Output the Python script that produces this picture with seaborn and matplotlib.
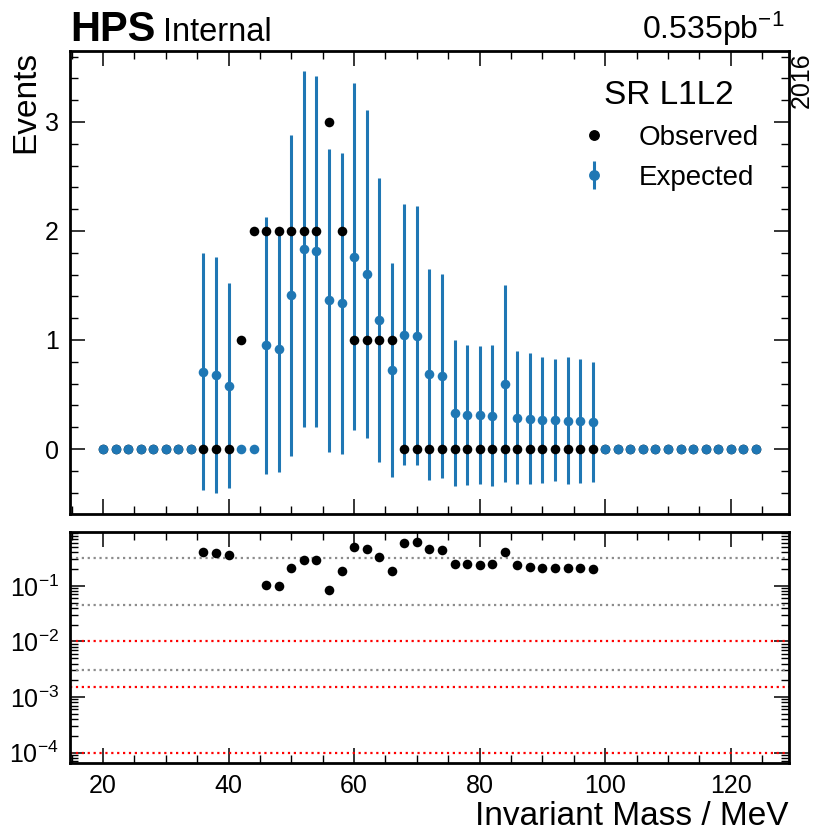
import numpy as np
import pandas as pd
import matplotlib
matplotlib.use("Agg")
import matplotlib.pyplot as plt
import seaborn as sns
from matplotlib.lines import Line2D
from matplotlib.ticker import MultipleLocator, LogLocator, NullFormatter

# ---------------- data ----------------
mass = [20, 22, 24, 26, 28, 30, 32, 34, 36, 38, 40, 42, 44, 46, 48, 50, 52, 54,
        56, 58, 60, 62, 64, 66, 68, 70, 72, 74, 76, 78, 80, 82, 84, 86, 88, 90,
        92, 94, 96, 98, 100, 102, 104, 106, 108, 110, 112, 114, 116, 118, 120,
        122, 124]
observed = [0, 0, 0, 0, 0, 0, 0, 0, 0, 0, 0, 1, 2, 2, 2, 2, 2, 2,
            3, 2, 1, 1, 1, 1, 0, 0, 0, 0, 0, 0, 0, 0, 0, 0, 0, 0,
            0, 0, 0, 0, 0, 0, 0, 0, 0, 0, 0, 0, 0, 0, 0,
            0, 0]
expected = [0, 0, 0, 0, 0, 0, 0, 0, 0.71, 0.68, 0.58, 0, 0, 0.95, 0.915, 1.41, 1.835, 1.815,
            1.365, 1.335, 1.765, 1.605, 1.185, 0.725, 1.05, 1.04, 0.685, 0.67, 0.327, 0.312,
            0.312, 0.306, 0.60, 0.287, 0.278, 0.266, 0.263, 0.26, 0.26, 0.25,
            0, 0, 0, 0, 0, 0, 0, 0, 0, 0, 0, 0, 0]
expected_err = [0, 0, 0, 0, 0, 0, 0, 0, 1.09, 1.08, 0.94, 0, 0, 1.175, 1.125, 1.47, 1.63, 1.61,
                1.39, 1.38, 1.59, 1.505, 1.30, 0.985, 1.197, 1.19, 0.965, 0.94, 0.67, 0.645,
                0.63, 0.645, 0.90, 0.61, 0.60, 0.58, 0.56, 0.585, 0.57, 0.55,
                0, 0, 0, 0, 0, 0, 0, 0, 0, 0, 0, 0, 0]

pval_mass = [36, 38, 40, 46, 48, 50, 52, 54, 56, 58, 60, 62, 64, 66, 68, 70, 72, 74,
             76, 78, 80, 82, 84, 86, 88, 90, 92, 94, 96, 98]
pvalue = [0.40, 0.39, 0.363, 0.104, 0.0975, 0.207, 0.288, 0.292, 0.0847, 0.182,
          0.507, 0.455, 0.33, 0.182, 0.60, 0.61, 0.455, 0.443, 0.25, 0.245,
          0.237, 0.245, 0.41, 0.234, 0.218, 0.21, 0.206, 0.21, 0.21, 0.20]

gray_levels = [0.32, 0.046, 0.003]
red_levels = [0.01, 0.0015, 0.0001]

# ---------------- style ----------------
sns.set_style("ticks")
plt.rcParams["font.family"] = ["Liberation Sans", "DejaVu Sans"]
plt.rcParams["mathtext.fontset"] = "custom"
plt.rcParams["mathtext.rm"] = "Liberation Sans"
plt.rcParams["mathtext.it"] = "Liberation Sans:italic"
plt.rcParams["mathtext.bf"] = "Liberation Sans:bold"
plt.rcParams["axes.linewidth"] = 2.0
plt.rcParams["axes.unicode_minus"] = True
for key in ["text.color", "axes.labelcolor", "xtick.color", "ytick.color",
            "axes.edgecolor", "legend.labelcolor"]:
    plt.rcParams[key] = "black"

blue = "#1f77b4"

df = pd.DataFrame({"mass": mass, "observed": observed,
                   "expected": expected, "err": expected_err})
dp = pd.DataFrame({"mass": pval_mass, "p": pvalue})

fig = plt.figure(figsize=(8.2, 8.31), dpi=100)
ax1 = fig.add_axes([0.0854, 0.3815, 0.8762, 0.5575])
ax2 = fig.add_axes([0.0854, 0.0815, 0.8762, 0.2787])


def style_ax(ax):
    ax.tick_params(which="both", direction="in", top=True, right=True,
                   labelsize=18, pad=8, colors="black")
    ax.tick_params(which="major", length=11, width=1.1)
    ax.tick_params(which="minor", length=5.5, width=1.0)
    for s in ax.spines.values():
        s.set_linewidth(2.0)
        s.set_color("black")


# ---- top panel ----
ax1.errorbar(df["mass"], df["expected"], yerr=df["err"], fmt="none",
             ecolor=blue, elinewidth=2.2, capsize=0, zorder=1)
sns.scatterplot(data=df, x="mass", y="observed", ax=ax1, color="black",
                s=48, linewidth=0, zorder=2, legend=False)
sns.scatterplot(data=df, x="mass", y="expected", ax=ax1, color=blue,
                s=48, linewidth=0, zorder=3, legend=False)
ax1.set_xlim(14.75, 129.2)
ax1.set_ylim(-0.596, 3.654)
ax1.xaxis.set_major_locator(MultipleLocator(20))
ax1.xaxis.set_minor_locator(MultipleLocator(5))
ax1.yaxis.set_major_locator(MultipleLocator(1))
ax1.yaxis.set_minor_locator(MultipleLocator(0.2))
style_ax(ax1)
ax1.tick_params(labelbottom=False)
ax1.set_xlabel("")
ax1.set_ylabel("Events", fontsize=24, loc="top", labelpad=3)

obs_handle = Line2D([], [], marker="o", color="black", linestyle="none", markersize=6.8)
exp_handle = ax1.errorbar([np.nan], [np.nan], yerr=[np.nan], fmt="o", color=blue,
                          markersize=6.8, elinewidth=2.2)
leg = ax1.legend([obs_handle, exp_handle], ["Observed", "Expected"],
                 title="SR L1L2", title_fontsize=24, fontsize=20, frameon=False,
                 loc="upper right", bbox_to_anchor=(0.993, 0.99),
                 handlelength=1.0, handletextpad=1.1, labelspacing=0.5)

# ---- bottom panel ----
sns.scatterplot(data=dp, x="mass", y="p", ax=ax2, color="black",
                s=48, linewidth=0, zorder=3, legend=False)
for lv in gray_levels:
    ax2.axhline(lv, color="#8c8c8c", linestyle=":", linewidth=1.6, zorder=1)
for lv in red_levels:
    ax2.axhline(lv, color="red", linestyle=":", linewidth=1.6, zorder=1)
ax2.set_yscale("log")
ax2.set_xlim(14.75, 129.2)
ax2.set_ylim(6.4e-5, 0.944)
ax2.xaxis.set_major_locator(MultipleLocator(20))
ax2.xaxis.set_minor_locator(MultipleLocator(5))
ax2.yaxis.set_major_locator(LogLocator(base=10, numticks=20))
ax2.yaxis.set_minor_locator(LogLocator(base=10, subs=np.arange(2, 10), numticks=20))
ax2.yaxis.set_minor_formatter(NullFormatter())
style_ax(ax2)
ax2.set_ylabel("")
ax2.set_xlabel("Invariant Mass / MeV", fontsize=24, loc="right", labelpad=2)

# ---- header texts ----
fig.text(70 / 820, 1 - 41 / 831, "HPS", fontsize=30, fontweight="bold",
         ha="left", va="baseline")
fig.text(163 / 820, 1 - 41 / 831, "Internal", fontsize=23.5,
         ha="left", va="baseline")
fig.text(784 / 820, 1 - 39 / 831, "0.535pb$^{-1}$", fontsize=23,
         ha="right", va="baseline")
fig.text(802 / 820, 1 - 52 / 831, "2016", fontsize=18, rotation=90,
         ha="center", va="top")

fig.savefig("out.png", dpi=100)
